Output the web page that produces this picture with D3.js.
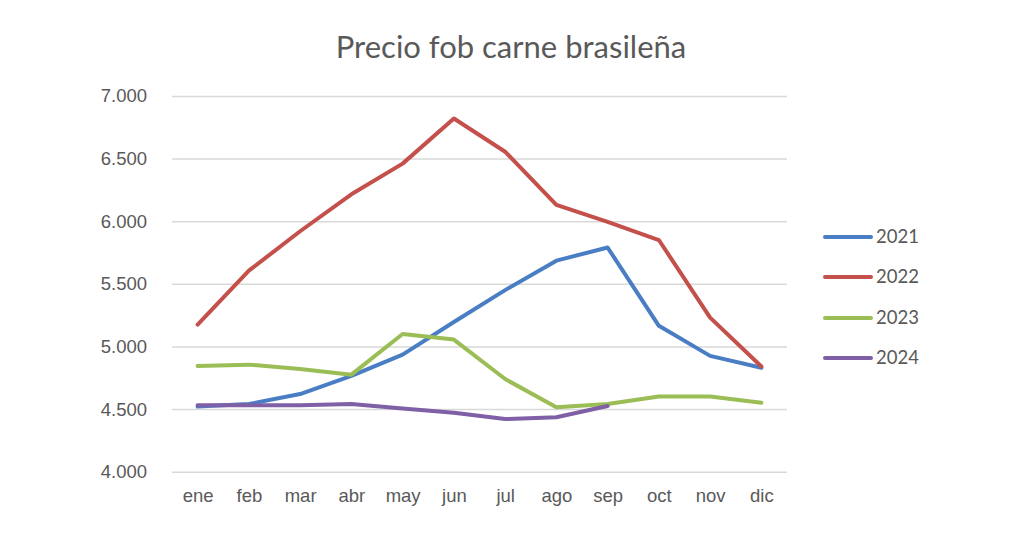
<!DOCTYPE html>
<html>
<head>
<meta charset="utf-8">
<script src="https://cdn.jsdelivr.net/npm/d3@7"></script>
<style>
  body { margin: 0; background: #fff; }
  svg { display: block; font-family: Lato, "Open Sans", sans-serif; }
</style>
</head>
<body>
<svg id="chart"></svg>
<script>
const months = ["ene", "feb", "mar", "abr", "may", "jun", "jul", "ago", "sep", "oct", "nov", "dic"];
const yTicks = [4000, 4500, 5000, 5500, 6000, 6500, 7000];

const v2021 = [4520, 4540, 4620, 4765, 4935, 5195, 5450, 5685, 5790, 5165, 4925, 4830];
const v2022 = [5175, 5605, 5920, 6215, 6460, 6820, 6555, 6130, 5995, 5850, 5230, 4840];
const v2023 = [4845, 4855, 4820, 4775, 5100, 5055, 4740, 4515, 4540, 4600, 4600, 4550];
const v2024 = [4530, 4530, 4530, 4540, 4505, 4470, 4420, 4435, 4525];

const series = [
  { name: "2021", values: v2021, color: "#4a7ec4" },
  { name: "2022", values: v2022, color: "#c4504b" },
  { name: "2023", values: v2023, color: "#9bbd55" },
  { name: "2024", values: v2024, color: "#7f5fa6" }
];

const width = 1024;
const height = 538;
const plot = { left: 172, right: 787, top: 96, bottom: 471.7 };

const svg = d3.select("#chart").attr("width", width).attr("height", height);

const x = d3.scalePoint().domain(months).range([plot.left, plot.right]).padding(0.5);
const y = d3.scaleLinear().domain([4000, 7000]).range([plot.bottom, plot.top]);

// Title
svg.append("text")
  .attr("x", 511).attr("y", 58)
  .attr("text-anchor", "middle")
  .attr("font-size", 31)
  .attr("fill", "#595959")
  .text("Precio fob carne brasileña");

// Gridlines + y labels
const yAxis = d3.axisLeft(y)
  .tickValues(yTicks)
  .tickSize(-(plot.right - plot.left))
  .tickPadding(25)
  .tickFormat(d => (d / 1000).toFixed(3));
const gy = svg.append("g").attr("transform", `translate(${plot.left},0)`).call(yAxis);
gy.select(".domain").remove();
gy.selectAll("line").attr("stroke", "#d9d9d9").attr("stroke-width", 1.5);
gy.selectAll("text").attr("font-size", 18.5).attr("fill", "#595959").style("font-family", "inherit");

// x labels
const xAxis = d3.axisBottom(x).tickSize(0).tickPadding(17);
const gx = svg.append("g").attr("transform", `translate(0,${plot.bottom})`).call(xAxis);
gx.select(".domain").remove();
gx.selectAll("text").attr("font-size", 18.5).attr("fill", "#595959").style("font-family", "inherit");

// Lines
const line = d3.line()
  .x((d, i) => x(months[i]))
  .y(d => y(d));

svg.selectAll(".series")
  .data(series)
  .enter()
  .append("path")
  .attr("class", "series")
  .attr("d", d => line(d.values))
  .attr("fill", "none")
  .attr("stroke", d => d.color)
  .attr("stroke-width", 4)
  .attr("stroke-linejoin", "round")
  .attr("stroke-linecap", "round");

// Legend
const legend = svg.append("g");
const legendY = [237, 277, 318, 358];
series.forEach((s, i) => {
  legend.append("line")
    .attr("x1", 825).attr("x2", 871)
    .attr("y1", legendY[i]).attr("y2", legendY[i])
    .attr("stroke", s.color).attr("stroke-width", 4)
    .attr("stroke-linecap", "round");
  legend.append("text")
    .attr("x", 876).attr("y", legendY[i])
    .attr("dy", "0.35em")
    .attr("font-size", 18.5)
    .attr("fill", "#595959")
    .text(s.name);
});
</script>
</body>
</html>
